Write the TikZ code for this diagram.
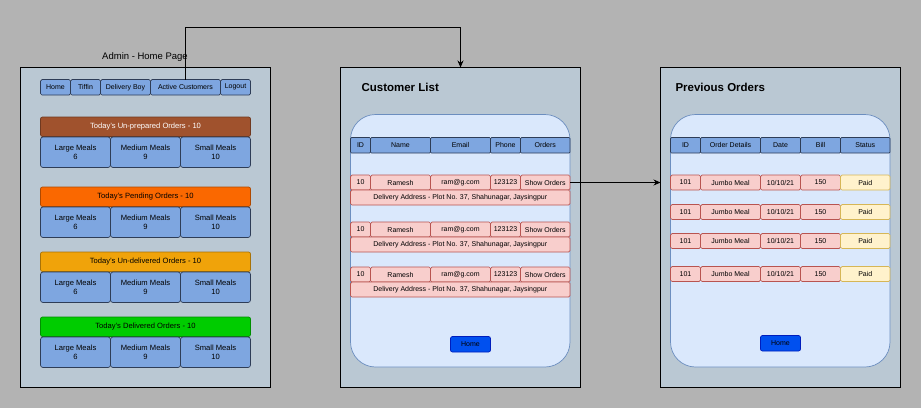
\documentclass[tikz,border=0pt]{standalone}
\usepackage{fontspec}
\setmainfont{Liberation Sans}
\usetikzlibrary{arrows.meta}
\definecolor{bggray}{HTML}{B3B3B3}
\definecolor{panelbg}{HTML}{BAC8D3}
\definecolor{btnblue}{HTML}{7EA6E0}
\definecolor{btnline}{HTML}{2E3D57}
\definecolor{listbg}{HTML}{DAE8FC}
\definecolor{listline}{HTML}{6C8EBF}
\definecolor{rowfill}{HTML}{F8CECC}
\definecolor{rowline}{HTML}{B85450}
\definecolor{paidfill}{HTML}{FFF2CC}
\definecolor{paidline}{HTML}{D6B656}
\definecolor{homefill}{HTML}{0050EF}
\definecolor{homeline}{HTML}{001DBC}
\definecolor{hdrbrown}{HTML}{A0522D}
\definecolor{hdrorange}{HTML}{FA6800}
\definecolor{hdramber}{HTML}{F0A30A}
\definecolor{hdrgreen}{HTML}{00CC00}

\tikzset{
  cellbox/.style={anchor=north west, inner sep=0pt, outer sep=0pt, align=center, line width=0.7pt},
  panel/.style={cellbox, draw=black, fill=panelbg, line width=0.8pt, minimum width=240, minimum height=320},
  navbtn/.style={cellbox, draw=btnline, fill=btnblue, rounded corners=1.5pt, minimum height=15.5},
  mealbox/.style={cellbox, draw=btnline, fill=btnblue, rounded corners=2.5pt, minimum width=70, minimum height=30.5, font=\fontsize{7.6}{9.8}\selectfont},
  hdrbar/.style={cellbox, rounded corners=2pt, minimum width=210, minimum height=19.5, font=\fontsize{7.6}{9}\selectfont},
  listbox/.style={cellbox, draw=listline, fill=listbg, rounded corners=25pt, minimum width=219.5, minimum height=252.5},
  thead/.style={cellbox, draw=btnline, fill=btnblue, rounded corners=1pt, minimum height=15.5},
  rowcell/.style={cellbox, draw=rowline, fill=rowfill, rounded corners=1.5pt, minimum height=15},
  paidcell/.style={cellbox, draw=paidline, fill=paidfill, rounded corners=1.5pt, minimum height=15},
  homebtn/.style={cellbox, draw=homeline, fill=homefill, rounded corners=2pt, minimum width=40, minimum height=15.5},
  pagetitle/.style={anchor=west, font=\fontsize{11.5}{13}\selectfont\bfseries},
  conn/.style={draw=black, line width=0.8pt, -{Stealth[length=7pt,width=6pt]}}
}

\begin{document}
\begin{tikzpicture}[x=1pt, y=-1pt, font=\fontsize{7}{8.5}\selectfont]
\fill[bggray] (0,0) rectangle (921,408);
\useasboundingbox (0,0) rectangle (921,408);

% admin home page
\node[panel, minimum width=250] (admin) at (20.5,67.5) {};
\node[font=\fontsize{9.5}{11}\selectfont] (admintitle) at (145,57) {Admin - Home Page};
\foreach \n/\x/\w/\t in {home/40.5/30/Home, tiffin/70.5/30/Tiffin, dboy/100.5/50/Delivery Boy, active/150.5/70/Active Customers, logout/220.5/30/Logout}
{
	\node[navbtn, minimum width=\w] (\n) at (\x,79.5) {\t};
}
\foreach \g/\y/\c/\tc/\t in {unprep/117/hdrbrown/white/Un-prepared, pend/187/hdrorange/black/Pending, undel/252/hdramber/black/Un-delivered, deliv/317/hdrgreen/black/Delivered}
{
	\node[hdrbar, fill=\c, draw=\c!70!black, text=\tc] (\g) at (40.5,\y) {Today's \t\ Orders - 10};
	\node[mealbox] (\g-large) at (40.5,\y+20) {Large Meals\\6};
	\node[mealbox] (\g-medium) at (110.5,\y+20) {Medium Meals\\9};
	\node[mealbox] (\g-small) at (180.5,\y+20) {Small Meals\\10};
}

% customer list
\node[panel] (cust) at (340.5,67.5) {};
\node[pagetitle] (custtitle) at (358,87) {Customer List};
\node[listbox] (custlist) at (350.5,114.5) {};
\foreach \n/\x/\w/\t in {id/350.5/20/ID, name/370.5/60/Name, email/430.5/60/Email, phone/490.5/30/Phone, orders/520.5/49.5/Orders}
{
	\node[thead, minimum width=\w] (c-\n) at (\x,137.5) {\t};
}
\foreach \r/\y in {1/175, 2/222, 3/267}
{
	\foreach \n/\x/\w/\t in {id/350.5/20/10, name/370.5/60/Ramesh, email/430.5/60/ram@g.com, phone/490.5/30/123123, orders/520.5/49.5/Show Orders}
	{
		\node[rowcell, minimum width=\w] (c\r-\n) at (\x,\y) {\t};
	}
	\node[rowcell, minimum width=219.5] (c\r-addr) at (350.5,\y+15) {Delivery Address - Plot No. 37, Shahunagar, Jaysingpur};
}
\node[homebtn] (custhome) at (450.5,336.5) {Home};

% previous orders
\node[panel] (prev) at (660.5,67.5) {};
\node[pagetitle] (prevtitle) at (672,87) {Previous Orders};
\node[listbox] (prevlist) at (670.5,114.5) {};
\foreach \n/\x/\w/\t in {id/670.5/30/ID, details/700.5/60/Order Details, date/760.5/40/Date, bill/800.5/40/Bill, status/840.5/49.5/Status}
{
	\node[thead, minimum width=\w] (p-\n) at (\x,137.5) {\t};
}
\foreach \r/\y in {1/175, 2/204.5, 3/233.5, 4/266.5}
{
	\foreach \n/\x/\w/\t in {id/670.5/30/101, details/700.5/60/Jumbo Meal, date/760.5/40/{10/10/21}, bill/800.5/40/150}
	{
		\node[rowcell, minimum width=\w] (p\r-\n) at (\x,\y) {\t};
	}
	\node[paidcell, minimum width=49.5] (p\r-status) at (840.5,\y) {Paid};
}
\node[homebtn] (prevhome) at (760.5,335.5) {Home};

% links
\draw[conn] (active.north) -- ++(0,-52) -| (cust.north);
\draw[conn] (c1-orders.east) -- (c1-orders.east -| prev.west);
\end{tikzpicture}
\end{document}
